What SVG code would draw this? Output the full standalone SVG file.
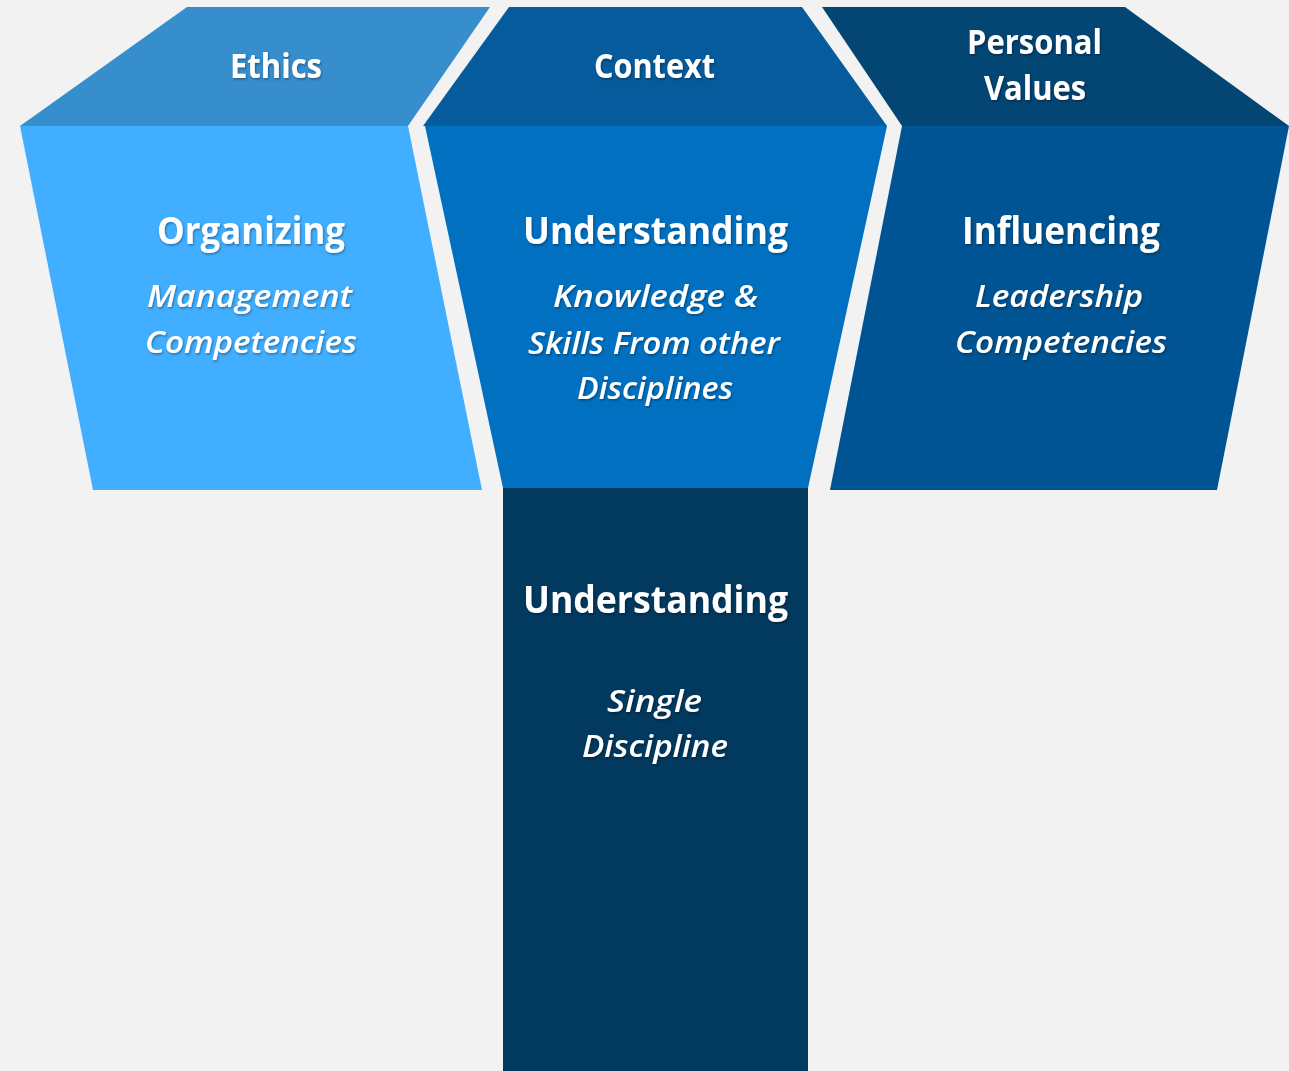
<svg xmlns="http://www.w3.org/2000/svg" width="1289" height="1071" viewBox="0 0 1289 1071">
  <defs>
    <filter id="sh" x="-10%" y="-20%" width="120%" height="140%">
      <feDropShadow dx="1" dy="1.5" stdDeviation="1.2" flood-color="#000" flood-opacity="0.35"/>
    </filter>
  </defs>
  <style>
    text { font-family: "Open Sans", "Liberation Sans", sans-serif; fill: #ffffff; text-anchor: middle; filter: url(#sh); }
    .hd { font-size: 34px; font-weight: bold; }
    .tt { font-size: 37px; font-weight: bold; }
    .it { font-size: 31px; font-style: italic; font-weight: 600; }
  </style>
  <rect width="1289" height="1071" fill="#f2f2f2"/>

  <g id="ethics">
    <polygon points="187,7 490,7 408,126 20,126" fill="#378ecd"/>
    <text class="hd" x="276" y="78" textLength="92" lengthAdjust="spacingAndGlyphs">Ethics</text>
  </g>
  <g id="context">
    <polygon points="509,7 802,7 887,126 423,126" fill="#055b9b"/>
    <text class="hd" x="654.5" y="78" textLength="121" lengthAdjust="spacingAndGlyphs">Context</text>
  </g>
  <g id="personal-values">
    <polygon points="822,7 1125,7 1289,126 902,126" fill="#034573"/>
    <text class="hd" x="1034.5" y="54" textLength="135" lengthAdjust="spacingAndGlyphs">Personal</text>
    <text class="hd" x="1035" y="100" textLength="102" lengthAdjust="spacingAndGlyphs">Values</text>
  </g>

  <g id="organizing">
    <polygon points="20,126 408,126 482,490 93,490" fill="#41aeff"/>
    <text class="tt" x="251" y="244" textLength="188" lengthAdjust="spacingAndGlyphs">Organizing</text>
    <text class="it" x="249.5" y="307" textLength="205" lengthAdjust="spacingAndGlyphs">Management</text>
    <text class="it" x="251" y="353" textLength="212" lengthAdjust="spacingAndGlyphs">Competencies</text>
  </g>

  <g id="understanding-broad">
    <polygon points="425,126 887,126 808,488 503,488" fill="#0170c1"/>
    <text class="tt" x="655.5" y="244" textLength="265" lengthAdjust="spacingAndGlyphs">Understanding</text>
    <text class="it" x="655.5" y="307" textLength="205" lengthAdjust="spacingAndGlyphs">Knowledge &amp;</text>
    <text class="it" x="654" y="354" textLength="252" lengthAdjust="spacingAndGlyphs">Skills From other</text>
    <text class="it" x="655" y="399" textLength="156" lengthAdjust="spacingAndGlyphs">Disciplines</text>
  </g>

  <g id="influencing">
    <polygon points="902,126 1289,126 1217,490 830,490" fill="#005493"/>
    <text class="tt" x="1061" y="244" textLength="198" lengthAdjust="spacingAndGlyphs">Influencing</text>
    <text class="it" x="1059" y="307" textLength="168" lengthAdjust="spacingAndGlyphs">Leadership</text>
    <text class="it" x="1061" y="353" textLength="212" lengthAdjust="spacingAndGlyphs">Competencies</text>
  </g>

  <g id="understanding-single">
    <rect x="503" y="488" width="305" height="583" fill="#02395f"/>
    <text class="tt" x="655.5" y="613" textLength="265" lengthAdjust="spacingAndGlyphs">Understanding</text>
    <text class="it" x="654.5" y="712" textLength="95" lengthAdjust="spacingAndGlyphs">Single</text>
    <text class="it" x="655" y="757" textLength="146" lengthAdjust="spacingAndGlyphs">Discipline</text>
  </g>

  <g id="connectors"/>
</svg>
